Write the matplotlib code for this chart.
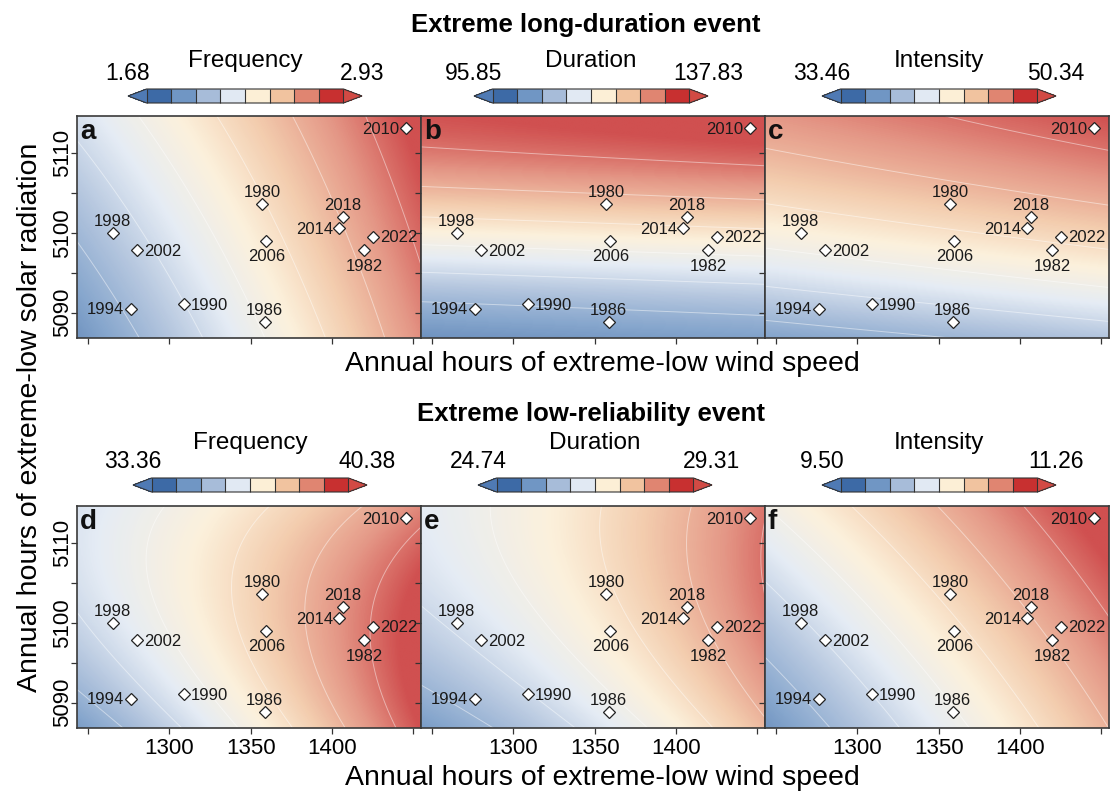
import numpy as np
import matplotlib
matplotlib.use("Agg")
import matplotlib.pyplot as plt
from matplotlib.colors import ListedColormap, LinearSegmentedColormap, BoundaryNorm, Normalize
from matplotlib.cm import ScalarMappable

plt.rcParams['font.family'] = ['Liberation Sans', 'DejaVu Sans']

W, H = 1115, 792

# station-year points: annual hours of extreme-low wind speed / solar radiation
years = [1980, 1982, 1986, 1990, 1994, 1998, 2002, 2006, 2010, 2014, 2018, 2022]
wind_hours = [1357.0, 1420.0, 1358.7, 1309.0, 1276.2, 1265.0, 1280.0, 1359.6, 1445.5, 1404.7, 1407.0, 1425.3]
solar_hours = [5103.7, 5097.8, 5088.8, 5091.1, 5090.5, 5099.95, 5097.85, 5099.05, 5113.2, 5100.6, 5102.0, 5099.55]
label_side = ['above', 'below', 'above', 'right', 'left', 'above',
              'right', 'below', 'left', 'left', 'above', 'right']

panel_letters = ['a', 'b', 'c', 'd', 'e', 'f']
metric_names = ['Frequency', 'Duration', 'Intensity', 'Frequency', 'Duration', 'Intensity']
bar_min = [1.68, 95.85, 33.46, 33.36, 24.74, 9.50]
bar_max = [2.93, 137.83, 50.34, 40.38, 29.31, 11.26]
row_titles = ['Extreme long-duration event', 'Extreme low-reliability event']

# fitted response surfaces, as share of the colour-bar range
# terms: 1, u, v, u^2, v^2, u*v, v^3  with u=(wind-1350)/100, v=(solar-5100)/10
surface_coef = [
    [0.57, 0.30, 0.075, 0.01, 0.0, -0.022, 0.0],
    [0.58, 0.025, 0.36, 0.0, -0.02, 0.0, -0.035],
    [0.61, 0.061, 0.23, 0.0, -0.035, 0.0, 0.0],
    [0.65, 0.29, 0.033, 0.02, -0.045, -0.06, 0.0],
    [0.57, 0.24, 0.08, 0.035, -0.033, -0.025, 0.0],
    [0.59, 0.265, 0.11, 0.0, 0.0, -0.02, 0.0],
]

bar_colors = ['#4f7ab4', '#3d6aa6', '#7096c4', '#a7bcd9', '#e1e9f3',
              '#fcefd6', '#f1c39f', '#e08571', '#c83030', '#d24a44']
field_cmap = LinearSegmentedColormap.from_list('field', bar_colors[1:-1])

x_lim = (1243.0, 1455.0)
y_lim = (5086.8, 5114.7)


def fig_box(x0, y0, w, h):
    return [x0 / W, 1 - (y0 + h) / H, w / W, h / H]


def surface(coef, u, v):
    terms = [np.ones_like(u), u, v, u ** 2, v ** 2, u * v, v ** 3]
    return sum(c * t for c, t in zip(coef, terms))


fig = plt.figure(figsize=(W / 100, H / 100), dpi=100)

gx = np.linspace(x_lim[0], x_lim[1], 320)
gy = np.linspace(y_lim[0], y_lim[1], 220)
GX, GY = np.meshgrid(gx, gy)
U = (GX - 1350.0) / 100.0
V = (GY - 5100.0) / 10.0

offsets = {'above': ((0, 5.0), 'center'), 'below': ((0, -14.5), 'center'),
           'left': ((-4.6, -4.2), 'right'), 'right': ((5.0, -4.2), 'left')}

panel_left = [77, 421, 765]
panel_top = [116, 506]
bar_left = [[128, 474, 822], [133, 478, 822]]
bar_top = [89, 478]
value_base = [80, 468]
name_base = [66.7, 449.3]
title_base = [31.7, 421]
title_x = [586, 591]
xlabel_base = [371, 785]

for k in range(6):
    r, c = divmod(k, 3)
    lo, hi = bar_min[k], bar_max[k]
    span = hi - lo

    ax = fig.add_axes(fig_box(panel_left[c], panel_top[r], 344, 222))
    Z = lo + span * surface(surface_coef[k], U, V)
    ax.imshow(Z, extent=(x_lim[0], x_lim[1], y_lim[0], y_lim[1]), origin='lower',
              aspect='auto', cmap=field_cmap, interpolation='bilinear', alpha=0.85,
              norm=Normalize(lo + span / 16, hi - span / 16))
    ax.contour(GX, GY, Z, levels=lo + span * np.arange(-3, 12) / 8,
               colors='white', linewidths=0.7, alpha=0.45)

    ax.plot(wind_hours, solar_hours, 'D', ls='none', ms=6.6, mfc='white',
            mec='#222222', mew=0.9, zorder=4)
    for yr, xw, ys, side in zip(years, wind_hours, solar_hours, label_side):
        off, ha = offsets[side]
        ax.annotate(str(yr), (xw, ys), xytext=off, textcoords='offset points',
                    ha=ha, va='baseline', fontsize=12, color='#1a1a1a', zorder=5)

    ax.set_xlim(*x_lim)
    ax.set_ylim(*y_lim)
    ax.set_xticks([1250, 1300, 1350, 1400, 1450])
    ax.set_yticks([5090, 5095, 5100, 5105, 5110])
    ax.tick_params(direction='out', length=4, width=0.9, color='#333333',
                   labelsize=16, pad=3.5)
    ax.tick_params(axis='y', pad=-1)
    if r == 1:
        ax.set_xticklabels(['', '1300', '1350', '1400', ''])
    else:
        ax.set_xticklabels([])
    if c == 0:
        ax.set_yticklabels(['5090', '', '5100', '', '5110'], rotation=90, va='center')
    else:
        ax.set_yticklabels([])
    for sp in ax.spines.values():
        sp.set_color('#3a3a3a')
        sp.set_linewidth(1.2)

    ax.text(0.008, 0.895, panel_letters[k], transform=ax.transAxes, fontsize=20,
            fontweight='bold', ha='left', va='baseline', color='#111111', zorder=6)

    # colour bar with both-end arrows
    bl = bar_left[r][c]
    cax = fig.add_axes(fig_box(bl, bar_top[r], 234, 14))
    bounds = np.linspace(lo, hi, 9)
    sm = ScalarMappable(norm=BoundaryNorm(bounds, ncolors=10, extend='both'),
                        cmap=ListedColormap(bar_colors))
    cb = fig.colorbar(sm, cax=cax, orientation='horizontal', extend='both',
                      extendfrac=0.094, drawedges=True)
    cb.set_ticks([])
    cb.minorticks_off()
    cb.outline.set_edgecolor('#333333')
    cb.outline.set_linewidth(0.8)
    cb.dividers.set_color('#333333')
    cb.dividers.set_linewidth(0.8)

    fig.text(bl / W, 1 - value_base[r] / H, f'{lo:.2f}', ha='center', va='baseline', fontsize=16.5)
    fig.text((bl + 234) / W, 1 - value_base[r] / H, f'{hi:.2f}', ha='center', va='baseline', fontsize=16.5)
    fig.text((bl + 117) / W, 1 - name_base[r] / H, metric_names[k], ha='center', va='baseline', fontsize=17.5)

for r in range(2):
    fig.text(title_x[r] / W, 1 - title_base[r] / H, row_titles[r], ha='center',
             va='baseline', fontsize=18.5, fontweight='bold')
    fig.text(602 / W, 1 - xlabel_base[r] / H, 'Annual hours of extreme-low wind speed',
             ha='center', va='baseline', fontsize=20.5)

fig.text(37 / W, 1 - 417 / H, 'Annual hours of extreme-low solar radiation',
         rotation=90, rotation_mode='anchor', ha='center', va='baseline', fontsize=20.5)

fig.savefig('out.png', dpi=100)
